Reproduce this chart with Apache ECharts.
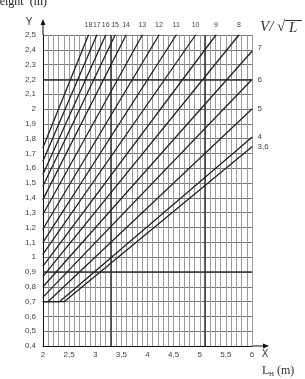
<!DOCTYPE html>
<html>
<head>
<meta charset="utf-8">
<script src="https://cdn.jsdelivr.net/npm/echarts@6/dist/echarts.min.js"></script>
<style>
  html, body { margin: 0; padding: 0; background: #fff; }
  #chart { width: 305px; height: 379px; }
</style>
</head>
<body>
<div id="chart"></div>
<script>
// one straight line per V/sqrt(L) value
var lineNames = ['18', '17', '16', '15', '14', '13', '12', '11', '10', '9', '8', '7', '6', '5', '4', '3,6'];
var startX = [2, 2, 2, 2, 2, 2, 2, 2, 2, 2, 2, 2, 2, 2.1, 2.32, 2.41];
var startY = [1.74, 1.65, 1.56, 1.48, 1.39, 1.29, 1.19, 1.10, 1.02, 0.94, 0.87, 0.80, 0.73, 0.7, 0.7, 0.7];
var endX = [2.87, 3.03, 3.2, 3.38, 3.59, 3.9, 4.22, 4.55, 4.92, 5.31, 5.75, 6, 6, 6, 6, 6];
var endY = [2.5, 2.5, 2.5, 2.5, 2.5, 2.5, 2.5, 2.5, 2.5, 2.5, 2.5, 2.39, 2.2, 2.0, 1.81, 1.745];

// minimum height floor on the lower left
var floorY = 0.7;
var floorFromX = 2;

// heavier reference lines of the grid
var boldX = [3.3, 5.1];
var boldY = [0.9, 2.2];

var xMin = 2, xMax = 6;
var yMin = 0.4, yMax = 2.5;

var dom = document.getElementById('chart');
var myChart = echarts.init(dom, null, { renderer: 'canvas' });

function comma(v) {
  return String(Math.round(v * 10) / 10).replace('.', ',');
}

var series = lineNames.map(function (name, i) {
  var pts = [];
  if (startY[i] === floorY && startX[i] > floorFromX) {
    pts.push([floorFromX, floorY]);
  }
  pts.push([startX[i], startY[i]]);
  var onTop = endY[i] >= yMax;
  pts.push({
    value: [endX[i], endY[i]],
    label: {
      show: true,
      position: onTop ? 'top' : 'right',
      distance: onTop ? 6 : 5,
      offset: name === '7' ? [0, -3] : [0, 0],
      formatter: name,
      color: '#444',
      fontSize: onTop ? 7 : 8,
      fontFamily: 'Liberation Sans'
    }
  });
  return {
    name: name,
    type: 'line',
    data: pts,
    symbol: 'circle',
    symbolSize: 1,
    showSymbol: true,
    showAllSymbol: true,
    label: { show: false },
    silent: true,
    clip: false,
    animation: false,
    itemStyle: { color: '#222' },
    lineStyle: { color: '#222', width: 1.3 },
    z: 5
  };
});

series.push({
  type: 'line',
  data: [],
  silent: true,
  animation: false,
  markLine: {
    symbol: 'none',
    silent: true,
    animation: false,
    label: { show: false },
    lineStyle: { color: '#333', width: 1.5, type: 'solid' },
    data: boldY.map(function (v) { return { yAxis: v }; })
      .concat(boldX.map(function (v) { return { xAxis: v }; }))
  },
  z: 3
});

var serif = 'Liberation Serif';

var option = {
  animation: false,
  grid: { left: 43, right: 53, top: 35, bottom: 33 },
  xAxis: {
    type: 'value',
    min: xMin,
    max: xMax,
    interval: 0.1,
    axisLine: { show: true, lineStyle: { color: '#111', width: 1 } },
    axisTick: { show: false },
    axisLabel: {
      margin: 5,
      color: '#444',
      fontSize: 8,
      fontFamily: 'Liberation Sans',
      formatter: function (v) {
        return Math.abs(v * 2 - Math.round(v * 2)) < 1e-6 ? comma(v) : '';
      }
    },
    splitLine: { show: true, lineStyle: { color: '#999', width: 1 } }
  },
  yAxis: {
    type: 'value',
    min: yMin,
    max: yMax,
    interval: 0.1,
    axisLine: { show: true, lineStyle: { color: '#111', width: 1 } },
    axisTick: { show: false },
    axisLabel: {
      margin: 7,
      color: '#444',
      fontSize: 8,
      fontFamily: 'Liberation Sans',
      formatter: comma
    },
    splitLine: { show: true, lineStyle: { color: '#777', width: 1 } }
  },
  graphic: [
    // axis arrows
    { type: 'line', shape: { x1: 43, y1: 35, x2: 43, y2: 22 }, style: { stroke: '#111', lineWidth: 1 } },
    { type: 'polygon', shape: { points: [[43, 19], [40.5, 25], [45.5, 25]] }, style: { fill: '#111' } },
    { type: 'line', shape: { x1: 252, y1: 346, x2: 266, y2: 346 }, style: { stroke: '#111', lineWidth: 1 } },
    { type: 'polygon', shape: { points: [[269, 346], [263, 343.5], [263, 348.5]] }, style: { fill: '#111' } },
    { type: 'text', x: 29, y: 22, style: { text: 'Y', fontSize: 10, fontFamily: 'Liberation Sans', fill: '#333', align: 'center', verticalAlign: 'middle' } },
    { type: 'text', x: 265, y: 354, style: { text: 'X', fontSize: 10, fontFamily: 'Liberation Sans', fill: '#333', align: 'center', verticalAlign: 'middle' } },
    // cut-off title at the top
    { type: 'text', x: -9, y: 8, style: { text: 'Height  (m)', fontSize: 12, fontFamily: serif, fill: '#222', align: 'left', verticalAlign: 'bottom' } },
    // V / sqrt(L)
    { type: 'text', x: 260, y: 27, style: { text: 'V/', fontSize: 15, fontStyle: 'italic', fontFamily: serif, fill: '#333', verticalAlign: 'middle' } },
    { type: 'text', x: 277, y: 27, style: { text: '\u221A', fontSize: 15, fontFamily: serif, fill: '#333', verticalAlign: 'middle' } },
    { type: 'text', x: 289, y: 28, style: { text: 'L', fontSize: 15, fontStyle: 'italic', fontFamily: serif, fill: '#333', verticalAlign: 'middle' } },
    { type: 'line', shape: { x1: 285, y1: 20.5, x2: 302, y2: 20.5 }, style: { stroke: '#333', lineWidth: 1 } },
    // L_H (m)
    { type: 'text', x: 262, y: 371, style: { text: 'L', fontSize: 12, fontFamily: serif, fill: '#333', verticalAlign: 'middle' } },
    { type: 'text', x: 269, y: 374, style: { text: 'H', fontSize: 7, fontFamily: serif, fill: '#333', verticalAlign: 'middle' } },
    { type: 'text', x: 277, y: 371, style: { text: '(m)', fontSize: 12, fontFamily: serif, fill: '#333', verticalAlign: 'middle' } }
  ],
  series: series
};

myChart.setOption(option);
window.addEventListener('resize', myChart.resize);
</script>
</body>
</html>
